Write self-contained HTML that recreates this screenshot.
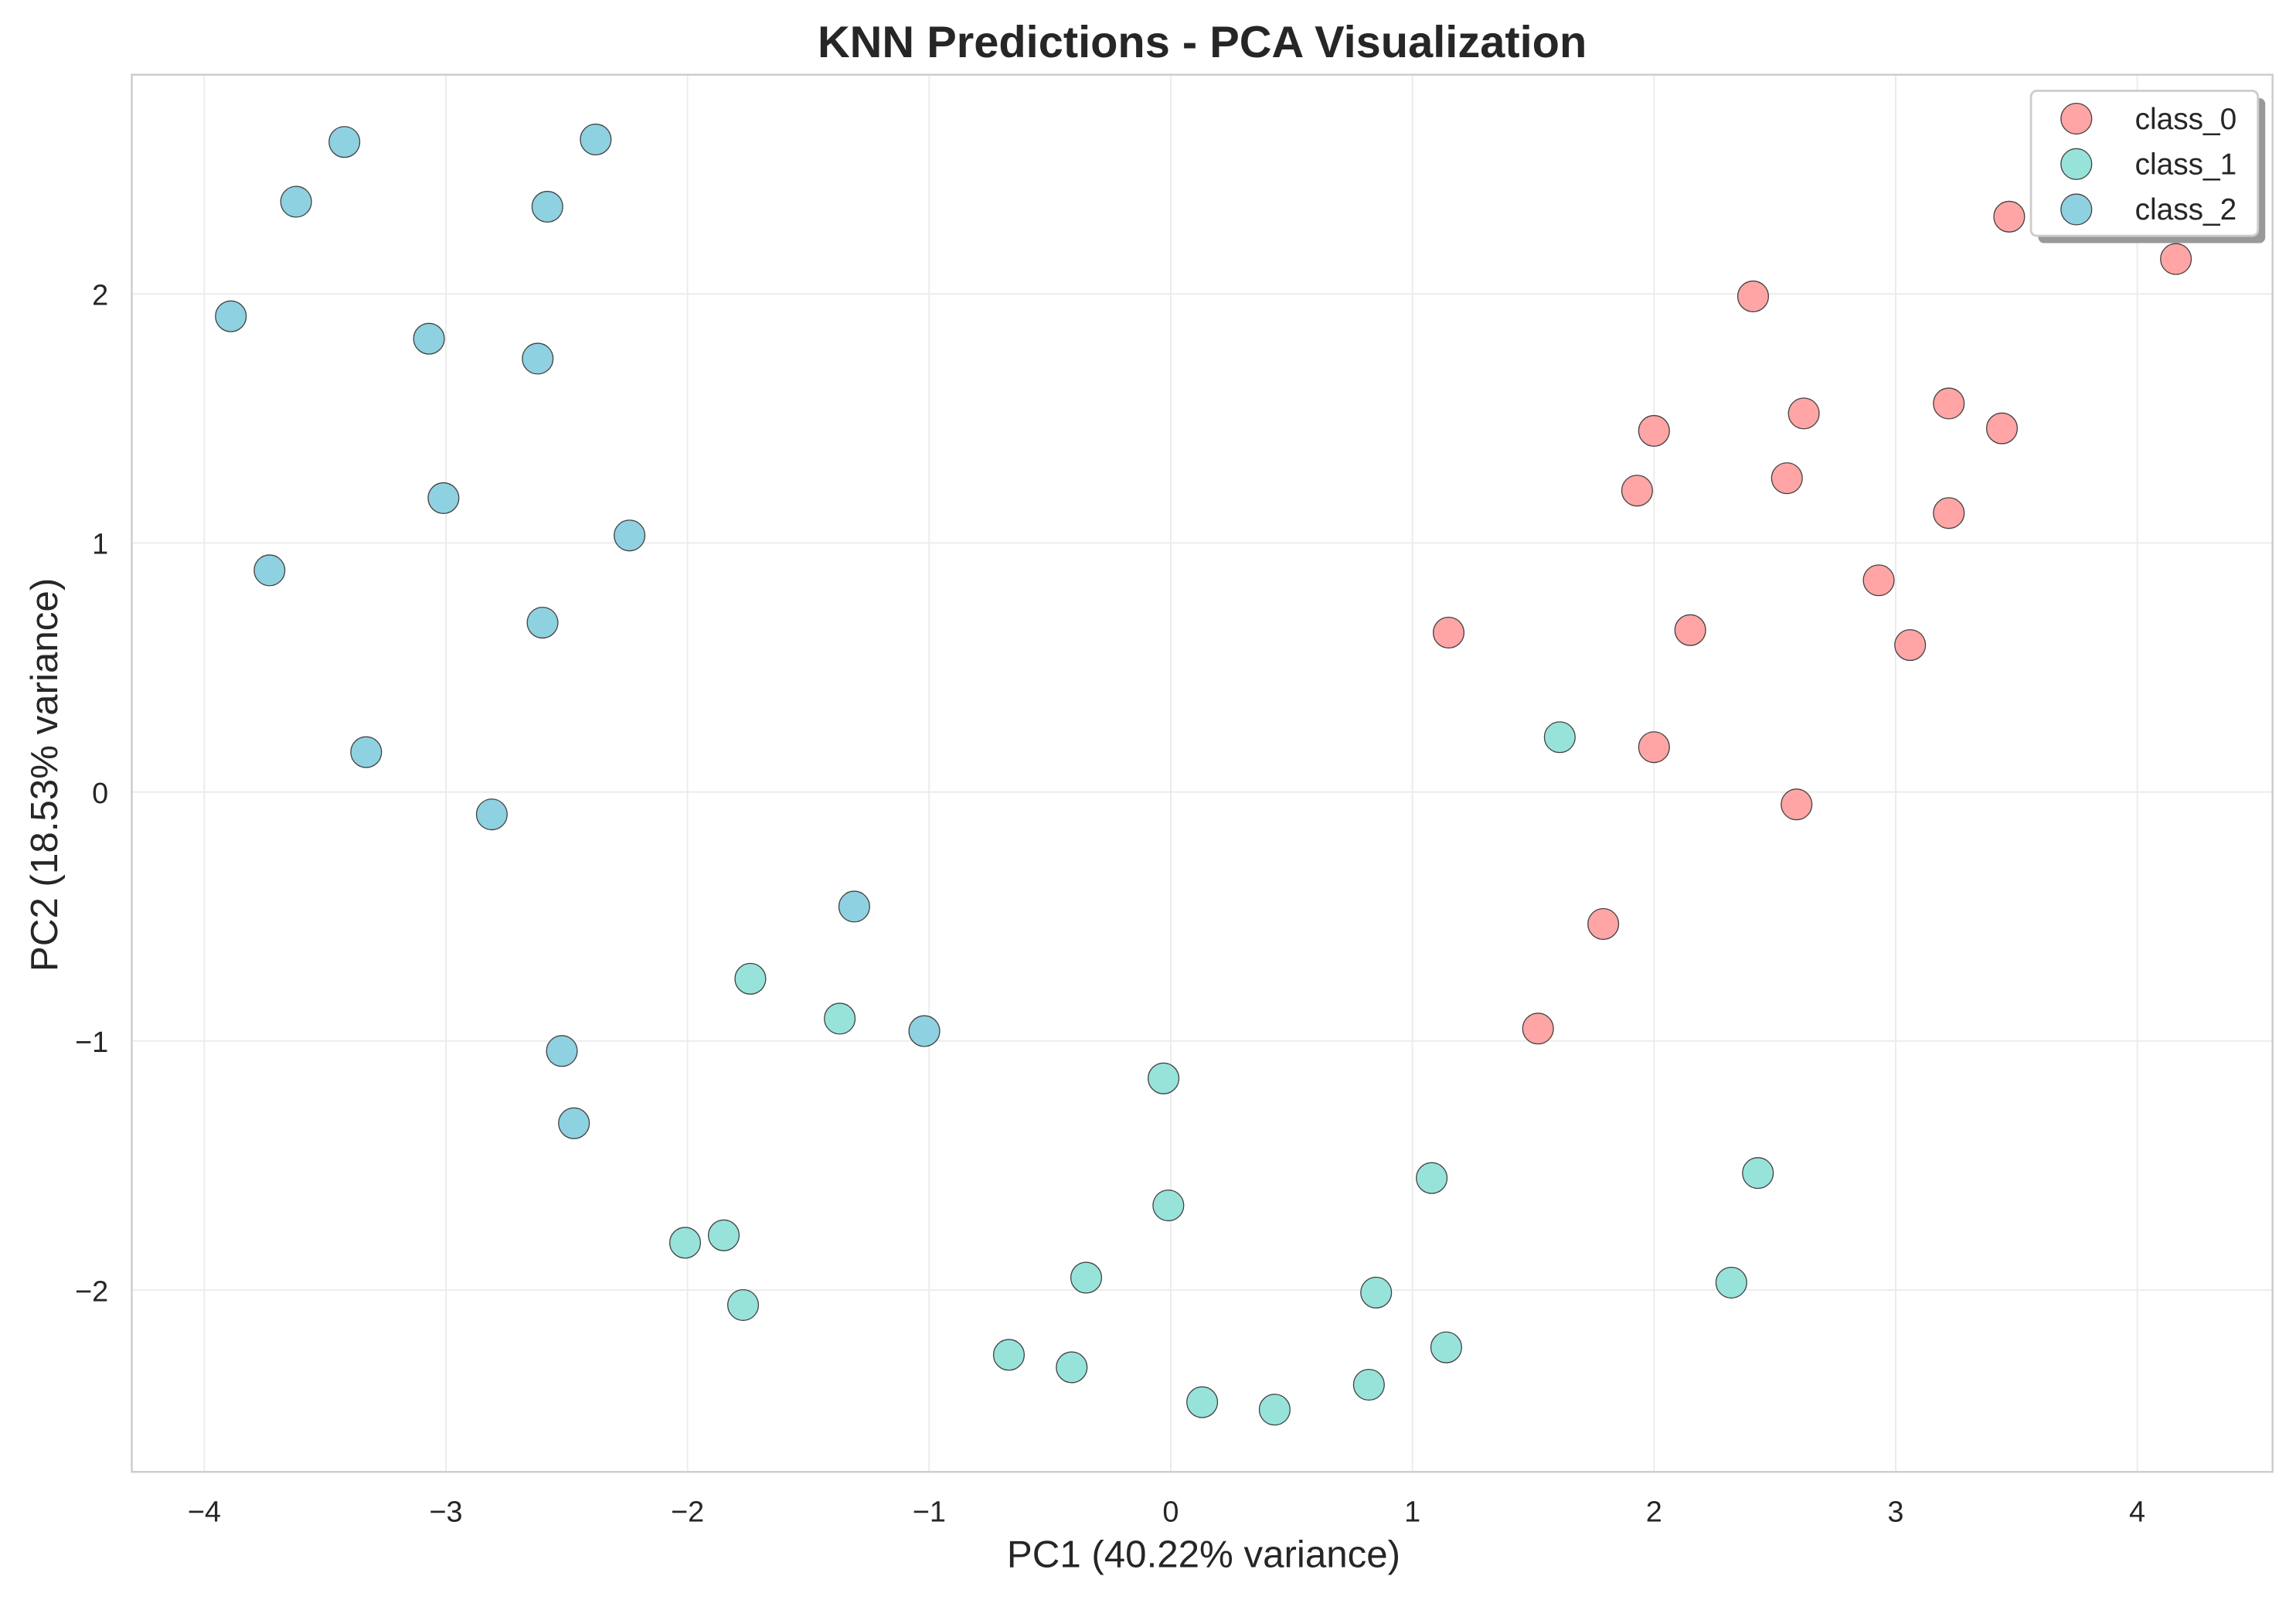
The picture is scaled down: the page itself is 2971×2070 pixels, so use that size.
<!DOCTYPE html>
<html><head><meta charset="utf-8"><style>html,body{margin:0;padding:0;background:#fff}svg{display:block}text{font-family:"Liberation Sans","DejaVu Sans",sans-serif;fill:#262626}</style></head>
<body>
<svg id="chart" width="2971" height="2070" viewBox="0 0 1568 1092.45" xmlns="http://www.w3.org/2000/svg">
<rect width="1568" height="1093" fill="#fff"/>
<g id="grid"></g>
<rect x="90" y="51" width="1462" height="954" fill="none" stroke="#cccccc" stroke-width="1.3"/>
<g id="points"></g>
<g id="ticks"></g>
<text x="821" y="39" text-anchor="middle" font-size="30.5" font-weight="bold">KNN Predictions - PCA Visualization</text>
<text x="822" y="1070" text-anchor="middle" font-size="26">PC1 (40.22% variance)</text>
<text transform="translate(39,529) rotate(-90)" text-anchor="middle" font-size="26">PC2 (18.53% variance)</text>
<g>
<rect x="1392" y="67" width="155" height="99" rx="4" fill="#999"/>
<rect x="1387" y="62" width="155" height="99" rx="4" fill="#fff" stroke="#cccccc" stroke-width="1.5"/>
<g id="legend-items"></g>
</g>
</svg>
<script>
const classNames = ["class_0","class_1","class_2"];
const colors = ["#FFA5A5","#97E3DA","#8ED1E1"];
const class0X = [3.47,4.16,2.41,2.0,2.62,3.22,3.44,1.93,2.55,3.22,2.93,3.06,1.15,2.15,2.0,2.59,1.79,1.52];
const class0Y = [2.31,2.14,1.99,1.45,1.52,1.56,1.46,1.21,1.26,1.12,0.85,0.59,0.64,0.65,0.18,-0.05,-0.53,-0.95];
const class1X = [1.61,-1.74,-1.37,-0.03,1.08,2.43,-0.01,-2.01,-1.85,-1.77,-0.35,0.85,2.32,-0.67,-0.41,1.14,0.82,0.13,0.43];
const class1Y = [0.22,-0.75,-0.91,-1.15,-1.55,-1.53,-1.66,-1.81,-1.78,-2.06,-1.95,-2.01,-1.97,-2.26,-2.31,-2.23,-2.38,-2.45,-2.48];
const class2X = [-3.42,-2.38,-3.62,-2.58,-3.89,-3.07,-2.62,-3.01,-2.24,-3.73,-2.6,-3.33,-2.81,-1.31,-1.02,-2.52,-2.47];
const class2Y = [2.61,2.62,2.37,2.35,1.91,1.82,1.74,1.18,1.03,0.89,0.68,0.16,-0.09,-0.46,-0.96,-1.04,-1.33];
const xTicks = [-4,-3,-2,-1,0,1,2,3,4];
const yTicks = [-2,-1,0,1,2];
const xMin=-4.3, xMax=4.56, yMin=-2.73, yMax=2.88;
const L=90,R=1552,T=51,B=1005;
function sx(v){return L+(v-xMin)/(xMax-xMin)*(R-L);}
function sy(v){return B-(v-yMin)/(yMax-yMin)*(B-T);}
const NS="http://www.w3.org/2000/svg";
function mk(tag,attrs,parent){const e=document.createElementNS(NS,tag);for(const k in attrs)e.setAttribute(k,attrs[k]);parent.appendChild(e);return e;}
const grid=document.getElementById('grid'),ticks=document.getElementById('ticks'),pts=document.getElementById('points');
xTicks.forEach(t=>{
  const l=mk('line',{x1:sx(t),x2:sx(t),y1:T,y2:B,stroke:'#ebebeb','stroke-width':1},grid);
  
  
  const tx=mk('text',{x:sx(t),y:1039,'text-anchor':'middle','font-size':20},ticks);
  tx.textContent=(t<0?'\u2212'+(-t):String(t));
  
  
});
yTicks.forEach(t=>{
  const l=mk('line',{x1:L,x2:R,y1:sy(t),y2:sy(t),stroke:'#ebebeb','stroke-width':1},grid);
  
  
  const tx=mk('text',{x:74,y:sy(t)+7.5,'text-anchor':'end','font-size':20},ticks);
  tx.textContent=(t<0?'\u2212'+(-t):String(t));
  
  
});
const series=[[class0X,class0Y],[class1X,class1Y],[class2X,class2Y]];
series.forEach((s,ci)=>{
  s[0].forEach((x,i)=>{
    const c=mk('circle',{cx:sx(x),cy:sy(s[1][i]),r:10.5,fill:colors[ci],stroke:'#444','stroke-width':0.7},pts);
    
    
  });
});
const li=document.getElementById('legend-items');
classNames.forEach((n,i)=>{
  const y=81+i*31;
  const c=mk('circle',{cx:1418,cy:y,r:10.5,fill:colors[i],stroke:'#444','stroke-width':0.7},li);
  
  
  const t=mk('text',{x:1458,y:y+7,'font-size':20.5},li);
  t.textContent=n;
  
  
});
</script>
</body></html>
